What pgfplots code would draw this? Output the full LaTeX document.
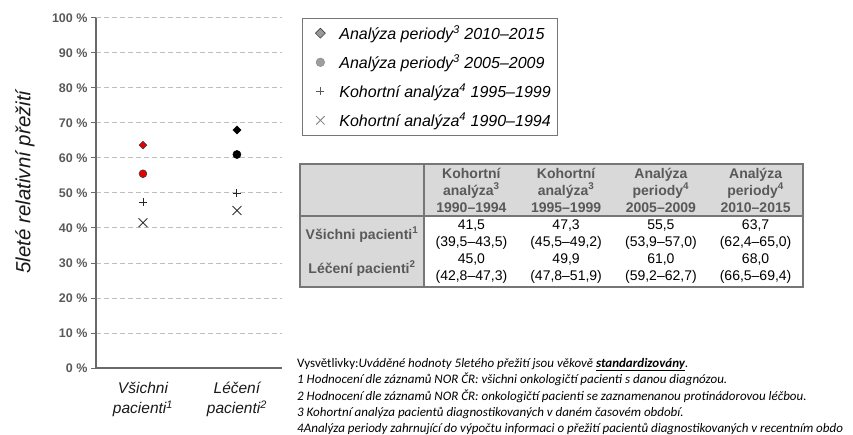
\documentclass[border=0pt]{standalone}
\usepackage{fontspec}
\setmainfont{Liberation Sans}
\newfontfamily\calibri{Carlito}
\usepackage{pgfplots}
\pgfplotsset{compat=1.18}
\definecolor{axgray}{HTML}{6A6A6A}
\definecolor{tickgray}{HTML}{595959}
\definecolor{gridgray}{HTML}{BFBFBF}
\definecolor{mred}{HTML}{E60000}
\definecolor{tabfill}{HTML}{D9D9D9}
\definecolor{tabborder}{HTML}{767676}
\begin{document}
\begin{tikzpicture}[x=1pt,y=1pt]
\useasboundingbox (0,0) rectangle (853,434);
\clip (0,0) rectangle (853,434);
\begin{axis}[
  at={(96pt,66pt)}, anchor=south west,
  width=186pt, height=350pt, scale only axis,
  xmin=0.5, xmax=2.48, ymin=0, ymax=100,
  axis x line*=bottom, axis y line*=left,
  axis line style={draw=axgray, line width=1.2pt},
  xtick={1,2},
  xticklabels={{Všichni\\pacienti\textsuperscript{1}},{Léčení\\pacienti\textsuperscript{2}}},
  xticklabel style={align=center, font=\fontsize{15.5}{19.5}\selectfont\itshape, text=black!90, yshift=-6pt},
  x tick style={draw=none},
  ytick={0,10,...,100},
  yticklabel={\pgfmathprintnumber{\tick}~\%},
  /pgf/number format/assume math mode=true,
  yticklabel style={font=\fontsize{12.5}{14}\selectfont\bfseries, text=tickgray},
  y tick style={draw=axgray, line width=1pt},
  tick align=outside, major tick length=5pt,
  ymajorgrids, grid style={gridgray, line width=1pt, dash pattern=on 5pt off 3pt},
  clip=false,
  legend style={at={(axis description cs:1.1075,1)}, anchor=north west,
    draw=tabborder, line width=0.8pt, fill=white,
    font=\fontsize{16}{18}\selectfont\itshape,
    inner xsep=5pt, inner ysep=5pt, row sep=9.5pt, cells={anchor=west}},
  legend cell align=left,
  legend image code/.code={\path[draw=none,fill=none] (0pt,-3pt) rectangle (30pt,3pt); \draw[#1] plot coordinates {(13pt,0pt)};},
]
% Analyza periody 2010-2015
\addplot[forget plot, only marks, mark=square*, mark size=2.7pt, mark options={rotate=45, fill=mred, draw=black!75, line width=0.6pt}] coordinates {(1,63.7)};
\addplot[forget plot, only marks, mark=square*, mark size=2.9pt, mark options={rotate=45, fill=black, draw=black}] coordinates {(2,68.0)};
% Analyza periody 2005-2009
\addplot[forget plot, only marks, mark=*, mark size=3.9pt, mark options={fill=mred, draw=black!75, line width=0.6pt}] coordinates {(1,55.5)};
\addplot[forget plot, only marks, mark=*, mark size=4.1pt, mark options={fill=black, draw=black}] coordinates {(2,61.0)};
% Kohortni analyza 1995-1999
\addplot[forget plot, only marks, mark=+, mark size=4pt, mark options={draw=black!85, line width=0.9pt}] coordinates {(1,47.3) (2,49.9)};
% Kohortni analyza 1990-1994
\addplot[forget plot, only marks, mark=x, mark size=6.3pt, mark options={draw=black!80, line width=0.9pt}] coordinates {(1,41.5) (2,45.0)};

\addlegendimage{only marks, mark=square*, mark size=3.5pt, mark options={rotate=45, fill=black!40, draw=black!75, line width=0.6pt}}
\addlegendentry{Analýza periody\textsuperscript{3} 2010–2015}
\addlegendimage{only marks, mark=*, mark size=4.3pt, mark options={fill=black!38, draw=black!45, line width=0.5pt}}
\addlegendentry{Analýza periody\textsuperscript{3} 2005–2009}
\addlegendimage{only marks, mark=+, mark size=4pt, mark options={draw=black!65, line width=0.8pt}}
\addlegendentry{Kohortní analýza\textsuperscript{4} 1995–1999}
\addlegendimage{only marks, mark=x, mark size=6pt, mark options={draw=black!50, line width=0.8pt}}
\addlegendentry{Kohortní analýza\textsuperscript{4} 1990–1994}
\end{axis}

% y label
\node[rotate=90, font=\fontsize{20.5}{24}\selectfont\itshape, text=black!90] at (25,252) {5leté relativní přežití};

% table
\fill[tabfill] (300,218) rectangle (803,270);
\fill[tabfill] (300,147) rectangle (424,218);
\fill[white] (424,147) rectangle (803,218);
\draw[tabborder, line width=1.3pt] (300,147) rectangle (803,270);
\draw[tabborder, line width=1.3pt] (300,218) -- (803,218);
\draw[tabborder, line width=1.3pt] (424,147) -- (424,270);
\begin{scope}[every node/.style={align=center, font=\fontsize{14}{17}\selectfont\bfseries, text=tickgray, inner sep=0pt}]
\node at (471.4,244) {Kohortní\\analýza\textsuperscript{3}\\1990–1994};
\node at (566.1,244) {Kohortní\\analýza\textsuperscript{3}\\1995–1999};
\node at (660.9,244) {Analýza\\periody\textsuperscript{4}\\2005–2009};
\node at (755.6,244) {Analýza\\periody\textsuperscript{4}\\2010–2015};
\node at (362,199.5) {Všichni pacienti\textsuperscript{1}};
\node at (362,165.5) {Léčení pacienti\textsuperscript{2}};
\end{scope}
\begin{scope}[every node/.style={align=center, font=\fontsize{14}{17}\selectfont, text=black, inner sep=0pt}]
\node at (471.4,199.5) {41,5\\(39,5–43,5)};
\node at (566.1,199.5) {47,3\\(45,5–49,2)};
\node at (660.9,199.5) {55,5\\(53,9–57,0)};
\node at (755.6,199.5) {63,7\\(62,4–65,0)};
\node at (471.4,165.5) {45,0\\(42,8–47,3)};
\node at (566.1,165.5) {49,9\\(47,8–51,9)};
\node at (660.9,165.5) {61,0\\(59,2–62,7)};
\node at (755.6,165.5) {68,0\\(66,5–69,4)};
\end{scope}

% footnotes
\begin{scope}[every node/.style={anchor=base west, inner sep=0pt, font=\calibri\fontsize{13}{16}\selectfont, text=black}]
\node at (297,67) {Vysvětlivky:\textit{Uváděné hodnoty 5letého přežití jsou věkově \textbf{\underline{standardizovány}}.}};
\node at (297,50.5) {\textit{1 Hodnocení dle záznamů NOR ČR: všichni onkologičtí pacienti s danou diagnózou.}};
\node at (297,34) {\textit{2 Hodnocení dle záznamů NOR ČR: onkologičtí pacienti se zaznamenanou protinádorovou léčbou.}};
\node at (297,18) {\textit{3 Kohortní analýza pacientů diagnostikovaných v daném časovém období.}};
\node at (297,2) {\textit{4Analýza periody zahrnující do výpočtu informaci o přežití pacientů diagnostikovaných v recentním obdo}};
\end{scope}
\end{tikzpicture}
\end{document}
